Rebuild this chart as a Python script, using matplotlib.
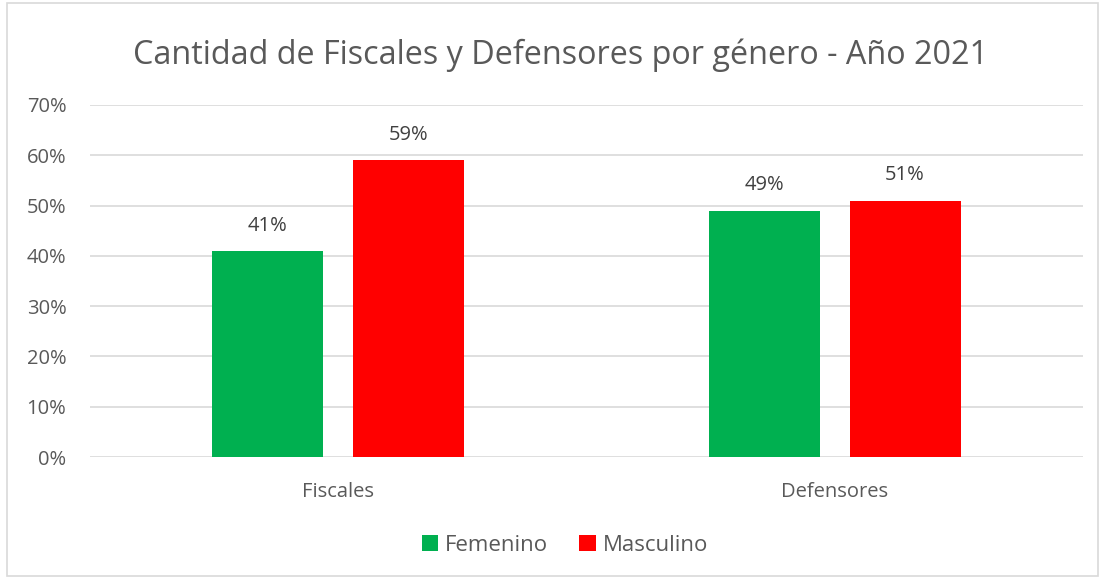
import numpy as np
import matplotlib.pyplot as plt
from matplotlib.patches import Rectangle

plt.rcParams['font.family'] = ['Open Sans', 'DejaVu Sans']

categorias = ["Fiscales", "Defensores"]
femenino = [41, 49]
masculino = [59, 51]
series = ["Femenino", "Masculino"]
colores = ["#00B050", "#FF0000"]
gris = "#595959"

fig = plt.figure(figsize=(11.05, 5.79), dpi=100)
ax = fig.add_axes([0.0814, 0.2107, 0.8986, 0.608])

x = np.arange(len(categorias))
ancho = 0.2236
sep = 0.1418
b1 = ax.bar(x - sep, femenino, ancho, color=colores[0], label=series[0], zorder=3)
b2 = ax.bar(x + sep, masculino, ancho, color=colores[1], label=series[1], zorder=3)

for barras in (b1, b2):
    for b in barras:
        h = b.get_height()
        ax.text(b.get_x() + b.get_width() / 2, h + 3.0, "{:.0f}%".format(h),
                ha="center", va="bottom", fontsize=14.5, color="#404040")

ax.set_xlim(-0.5, 1.5)
ax.set_ylim(0, 70)
ax.set_yticks(np.arange(0, 71, 10))
ax.set_yticklabels(["{}%".format(v) for v in range(0, 71, 10)])
ax.set_xticks(x)
ax.set_xticklabels(categorias)
ax.tick_params(axis="both", length=0, labelsize=14.5, labelcolor=gris)
ax.tick_params(axis="y", pad=17)
ax.tick_params(axis="x", pad=18)
ax.grid(axis="y", color="#D9D9D9", linewidth=1.2, zorder=0)
for s in ax.spines.values():
    s.set_visible(False)

fig.text(0.507, 0.905, "Cantidad de Fiscales y Defensores por género - Año 2021",
         ha="center", va="center", fontsize=23.3, color=gris)

fig.legend(handles=[b1, b2], labels=series, loc="center", bbox_to_anchor=(0.511, 0.058),
           ncol=2, frameon=False, fontsize=16, labelcolor=gris,
           handlelength=0.75, handleheight=0.75, handletextpad=0.3, columnspacing=1.4)

fig.patches.append(Rectangle((0.006, 0.006), 0.988, 0.988, transform=fig.transFigure,
                             fill=False, edgecolor="#D9D9D9", linewidth=1.2))

plt.savefig("out.png", dpi=100)
